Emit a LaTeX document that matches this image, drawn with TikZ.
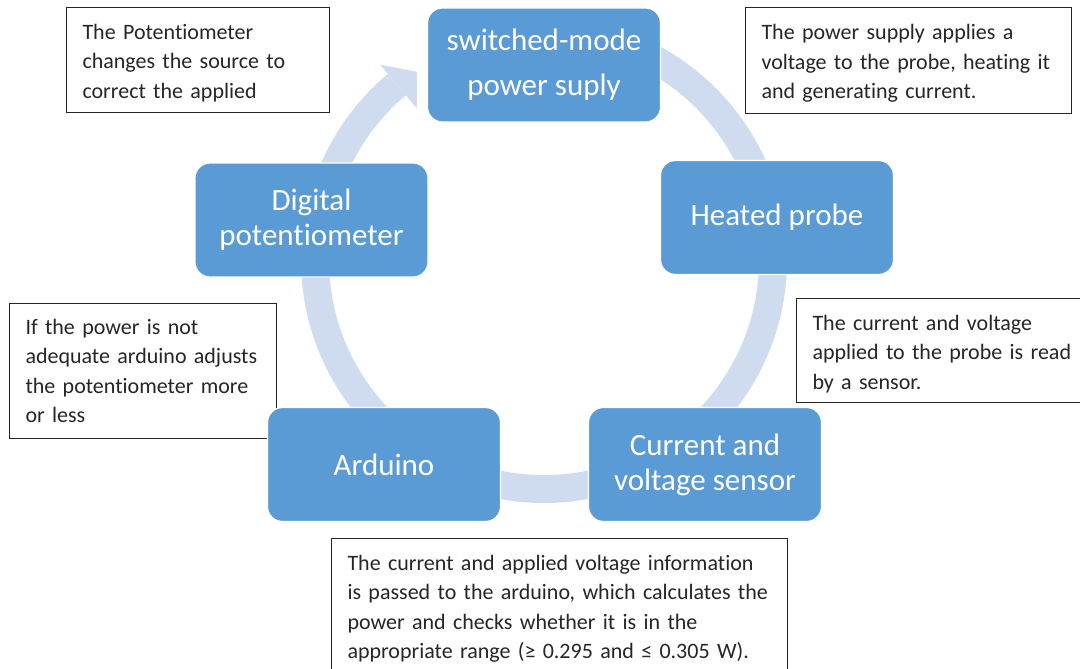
\documentclass[tikz,border=0pt]{standalone}
\usepackage{fontspec}
\setmainfont{Carlito}[Ligatures=NoCommon]
\usepackage{tikz}
\usepackage{xcolor}
\definecolor{stageblue}{RGB}{91,155,213}
\definecolor{ringblue}{RGB}{207,220,240}
\definecolor{noteink}{RGB}{38,38,38}

\begin{document}
\begin{tikzpicture}[x=1pt,y=-1pt,
  stage/.style={fill=stageblue,draw=white,line width=1.2pt,rounded corners=15pt,
    text=white,minimum width=233pt,minimum height=114pt,inner sep=0pt,align=center,
    font=\fontsize{31}{35}\selectfont},
  note/.style={draw=noteink,line width=1pt,fill=white,text=noteink,anchor=north west,
    inner xsep=16pt,inner ysep=0pt,align=left,font=\fontsize{22}{29.5}\selectfont}]
  \useasboundingbox (0,0) rectangle (1080,669);
  % ring with its head
  \coordinate (hub) at (544,260);
  \draw[ringblue,line width=28pt] ([shift={(-90:229)}]hub)
    arc[start angle=-90,end angle=230,radius=229];
  \fill[ringblue] ([shift={(230:255)}]hub) -- ([shift={(236:227)}]hub)
    -- ([shift={(230:198)}]hub) -- cycle;
  % notes
  \node[note,minimum width=263pt,minimum height=105pt,text width=231pt] (potnote) at (66,7)
    {\rule{0pt}{21pt}The Potentiometer\\changes the source to\\correct the applied};
  \node[note,minimum width=326pt,minimum height=106pt,text width=294pt] (supplynote) at (745,7)
    {\rule{0pt}{21pt}The power supply applies a\\voltage to the probe, heating it\\and generating current.};
  \node[note,minimum width=300pt,minimum height=104pt,text width=268pt] (probenote) at (796,298)
    {\rule{0pt}{22pt}The current and voltage\\applied to the probe is read\\by a sensor.};
  \node[note,minimum width=267pt,minimum height=135pt,text width=235pt] (arduinonote) at (9,303)
    {If the power is not\\adequate arduino adjusts\\the potentiometer more\\or less};
  \node[note,minimum width=456pt,minimum height=140pt,text width=424pt] (sensornote) at (331,538)
    {The current and applied voltage information\\is passed to the arduino, which calculates the\\power and checks whether it is in the\\appropriate range (≥ 0.295 and ≤ 0.305 W).};
  % stages of the cycle
  \node[stage] (supply) at (544,65) {switched-mode\\[10pt]power suply};
  \node[stage] (probe) at (777,217.5) {Heated probe};
  \node[stage] (sensor) at (705,464.5) {Current and\\voltage sensor};
  \node[stage] (arduino) at (384,464.5) {Arduino};
  \node[stage] (digipot) at (311.5,220) {Digital\\potentiometer};
\end{tikzpicture}
\end{document}
